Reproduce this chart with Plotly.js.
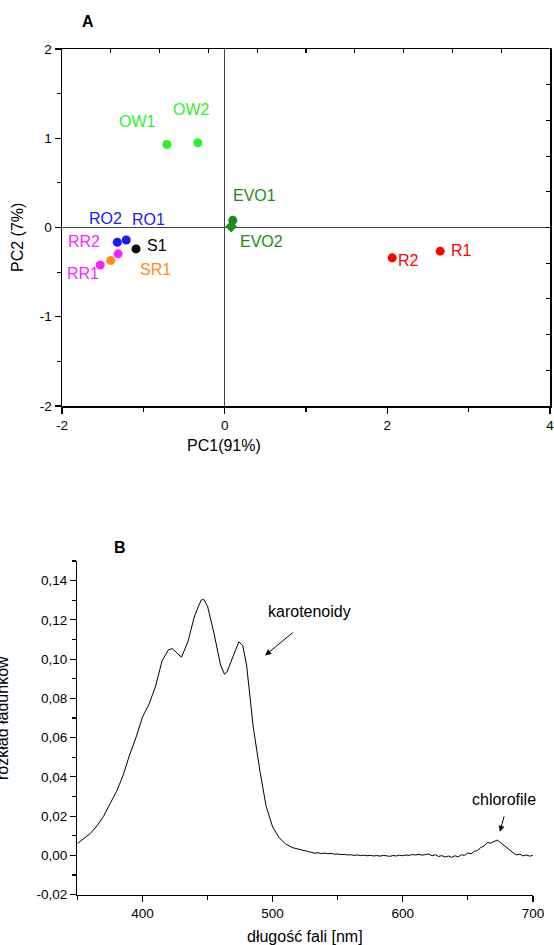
<!DOCTYPE html>
<html>
<head>
<meta charset="utf-8">
<script src="https://cdn.plot.ly/plotly-3.0.1.min.js"></script>
<style>html,body{margin:0;padding:0;background:#fff;}#chart{width:554px;height:945px;}</style>
</head>
<body>
<div id="chart"></div>
<script>
// ---------- Panel A data (PCA scores) ----------
const sampleNames = ["OW1","OW2","EVO1","EVO2","RO2","RO1","S1","RR2","SR1","RR1","R2","R1"];
const pc1Scores  = [-0.71,-0.33, 0.10, 0.08,-1.32,-1.21,-1.09,-1.31,-1.40,-1.53, 2.06, 2.65];
const pc2Scores  = [ 0.93, 0.95, 0.08, 0.01,-0.165,-0.14,-0.24,-0.295,-0.37,-0.42,-0.34,-0.265];
const sampleColors = ["#2cf02c","#2cf02c","#1e8a1e","#1e8a1e","#1a1aff","#1a1aff","#000000","#ff22ff","#ff8c1a","#ff22ff","#ff0000","#ff0000"];
const sampleSymbols = ["circle","circle","circle","diamond","circle","circle","circle","circle","circle","circle","circle","circle"];
const pcaXTicks = [-2,0,2,4];
const pcaXTickText = ["-2","0","2","4"];
const pcaYTicks = [-2,-1,0,1,2];
const pcaYTickText = ["-2","-1","0","1","2"];

// ---------- Panel B data (loading spectrum) ----------
const wavelength = [350,355,360,365,370,375,380,385,390,395,400,405,410,415,420,423,425,430,435,440,445,447,450,455,460,463,465,470,474,477,480,485,490,495,500,505,510,515,520,
522.5,525,527.5,530,532.5,535,537.5,540,542.5,545,547.5,550,552.5,555,557.5,560,562.5,565,567.5,570,572.5,575,577.5,580,582.5,585,587.5,590,592.5,595,597.5,600,
602.5,605,607.5,610,612.5,615,617.5,620,622.5,625,627.5,630,632.5,635,637.5,640,642.5,645,647.5,650,652.5,655,657.5,660,662.5,665,667.5,670,672.5,675,677.5,680,
682.5,685,687.5,690,692.5,695,697.5,700];
const loading = [0.0060,0.0085,0.0112,0.0150,0.0198,0.0262,0.0325,0.0405,0.0510,0.0600,0.0705,0.0770,0.0860,0.0990,0.1048,0.1053,0.1040,0.1010,0.1090,0.1220,0.1300,0.1305,0.1270,0.1130,0.0970,0.0923,0.0935,0.1025,0.1088,0.1070,0.0970,0.0660,0.0440,0.0250,0.0145,0.0090,0.0058,0.0040,0.0030,
0.0027,0.0023,0.0019,0.0016,0.0011,0.0013,0.0009,0.0012,0.0008,0.0010,0.0006,0.0007,0.0004,0.0005,0.0002,0.0003,0.0000,0.0002,-0.0001,0.0001,-0.0002,0.0000,-0.0003,-0.0001,-0.0004,0.0000,-0.0002,-0.0005,-0.0001,-0.0003,0.0001,-0.0002,
0.0002,0.0000,0.0004,0.0002,0.0005,0.0001,0.0004,0.0007,-0.0002,0.0003,-0.0006,-0.0001,-0.0009,-0.0003,-0.0010,-0.0002,-0.0008,0.0003,0.0000,0.0012,0.0008,0.0020,0.0025,0.0040,0.0048,0.0066,0.0062,0.0072,0.0078,0.0066,0.0052,0.0038,
0.0024,0.0012,0.0002,0.0006,-0.0003,0.0002,-0.0004,0.0000];
const specXTicks = [400,500,600,700];
const specXTickText = ["400","500","600","700"];
const specYTicks = [-0.02,0,0.02,0.04,0.06,0.08,0.10,0.12,0.14];
const specYTickText = ["-0,02","0,00","0,02","0,04","0,06","0,08","0,10","0,12","0,14"];

// ---------- layout helpers (pixels -> paper) ----------
const W = 554, H = 945;
const px = v => v / W;
const py = v => 1 - v / H;
const FONT = "Arial, 'Liberation Sans', sans-serif";

// label offsets (pixels) for the sample labels
const labelShift = {
  OW1:[-29,23], OW2:[-6,33], EVO1:[22,25], EVO2:[30,-15], RO2:[-12,24], RO1:[22,20],
  S1:[21,3], RR2:[-34,12], SR1:[45,-9], RR1:[-17,-9], R2:[16,-3], R1:[21,1]
};

const traces = [
  {
    type: "scatter", mode: "markers", xaxis: "x", yaxis: "y",
    x: pc1Scores, y: pc2Scores,
    marker: {color: sampleColors, size: 9, symbol: sampleSymbols, line: {width: 0}},
    hoverinfo: "skip", showlegend: false
  },
  { type: "scatter", mode: "markers", xaxis: "x3", yaxis: "y3", x: [], y: [], showlegend: false, hoverinfo: "skip" },
  {
    type: "scatter", mode: "lines", xaxis: "x2", yaxis: "y2",
    x: wavelength, y: loading,
    line: {color: "#000", width: 1}, hoverinfo: "skip", showlegend: false
  }
];

const annotations = [];
sampleNames.forEach((n, i) => {
  annotations.push({
    xref: "x", yref: "y", x: pc1Scores[i], y: pc2Scores[i], text: n, showarrow: false,
    xanchor: "center", yanchor: "middle",
    xshift: labelShift[n][0], yshift: labelShift[n][1],
    font: {family: FONT, size: 16, color: sampleColors[i]}
  });
});
const paperText = (x, y, text, extra) => Object.assign({
  xref:"paper", yref:"paper", x:px(x), y:py(y), text:text, showarrow:false,
  xanchor:"center", yanchor:"middle", font:{family:FONT,size:16,color:"#000"}
}, extra || {});
annotations.push(
  paperText(88, 22, "<b>A</b>"),
  paperText(120, 547, "<b>B</b>"),
  paperText(18, 238, "PC2 (7%)", {textangle:-90}),
  paperText(224, 445, "PC1(91%)"),
  paperText(2, 718, "rozkład ładunków", {textangle:-90}),
  paperText(305, 936, "długość fali [nm]"),
  {xref:"x2", yref:"y2", x:528, y:0.1241, text:"karotenoidy", showarrow:false, xanchor:"center", yanchor:"middle", font:{family:FONT,size:16,color:"#000"}},
  {xref:"x2", yref:"y2", x:678, y:0.0287, text:"chlorofile", showarrow:false, xanchor:"center", yanchor:"middle", font:{family:FONT,size:16,color:"#000"}},
  {xref:"x2", yref:"y2", x:494.3, y:0.1019, text:"", showarrow:true, ax:29, ay:-24, arrowhead:2, arrowsize:1.2, arrowwidth:1, arrowcolor:"#000"},
  {xref:"x2", yref:"y2", x:674.7, y:0.012, text:"", showarrow:true, ax:4.5, ay:-17, arrowhead:2, arrowsize:1.2, arrowwidth:1, arrowcolor:"#000"}
);

const axCommon = {showgrid:false, showline:true, linecolor:"#000", linewidth:1.5, tickcolor:"#000", tickwidth:1.2,
  tickfont:{family:FONT, size:13.5, color:"#000"}, mirror:false, fixedrange:true, ticklabeloverflow:"allow"};

const layout = {
  width: W, height: H, autosize: false,
  margin: {l:0, r:0, t:0, b:0},
  paper_bgcolor: "#fff", plot_bgcolor: "#fff",
  showlegend: false,
  xaxis: Object.assign({}, axCommon, {
    domain:[px(62), px(550)], anchor:"y", range:[-2,4],
    tickmode:"array", tickvals:pcaXTicks, ticktext:pcaXTickText, ticks:"outside", ticklen:6,
    minor:{tickmode:"array", tickvals:[-1,1,3], ticks:"outside", ticklen:4, tickcolor:"#000", tickwidth:1.2},
    zeroline:true, zerolinecolor:"#444", zerolinewidth:1
  }),
  yaxis: Object.assign({}, axCommon, {
    domain:[py(406), py(49)], anchor:"x", range:[-2,2],
    tickmode:"array", tickvals:pcaYTicks, ticktext:pcaYTickText, ticks:"outside", ticklen:6,
    minor:{tickmode:"array", tickvals:[-1.5,-0.5,0.5,1.5], ticks:"outside", ticklen:4, tickcolor:"#000", tickwidth:1.2},
    zeroline:true, zerolinecolor:"#444", zerolinewidth:1
  }),
  xaxis3: Object.assign({}, axCommon, {
    overlaying:"x", side:"top", anchor:"y", range:[0,10], dtick:1, tick0:0,
    ticks:"inside", ticklen:4, showticklabels:false, zeroline:false
  }),
  yaxis3: Object.assign({}, axCommon, {
    overlaying:"y", side:"right", anchor:"x", range:[0,10], dtick:1, tick0:0,
    ticks:"inside", ticklen:4, showticklabels:false, zeroline:false
  }),
  xaxis2: Object.assign({}, axCommon, {
    domain:[px(77.4), px(532.9)], anchor:"y2", range:[350,700],
    tickmode:"array", tickvals:specXTicks, ticktext:specXTickText, ticks:"outside", ticklen:6,
    minor:{tickmode:"array", tickvals:[350,450,550,650], ticks:"outside", ticklen:4, tickcolor:"#000", tickwidth:1.2},
    zeroline:false
  }),
  yaxis2: Object.assign({}, axCommon, {
    domain:[py(894.6), py(561)], anchor:"x2", range:[-0.02,0.15],
    tickmode:"array", tickvals:specYTicks, ticktext:specYTickText, ticks:"outside", ticklen:6,
    minor:{tickmode:"array", tickvals:[-0.01,0.01,0.03,0.05,0.07,0.09,0.11,0.13,0.15], ticks:"outside", ticklen:4, tickcolor:"#000", tickwidth:1.2},
    zeroline:false
  }),
  annotations: annotations
};

Plotly.newPlot("chart", traces, layout, {displayModeBar:false, staticPlot:true});
</script>
</body>
</html>
